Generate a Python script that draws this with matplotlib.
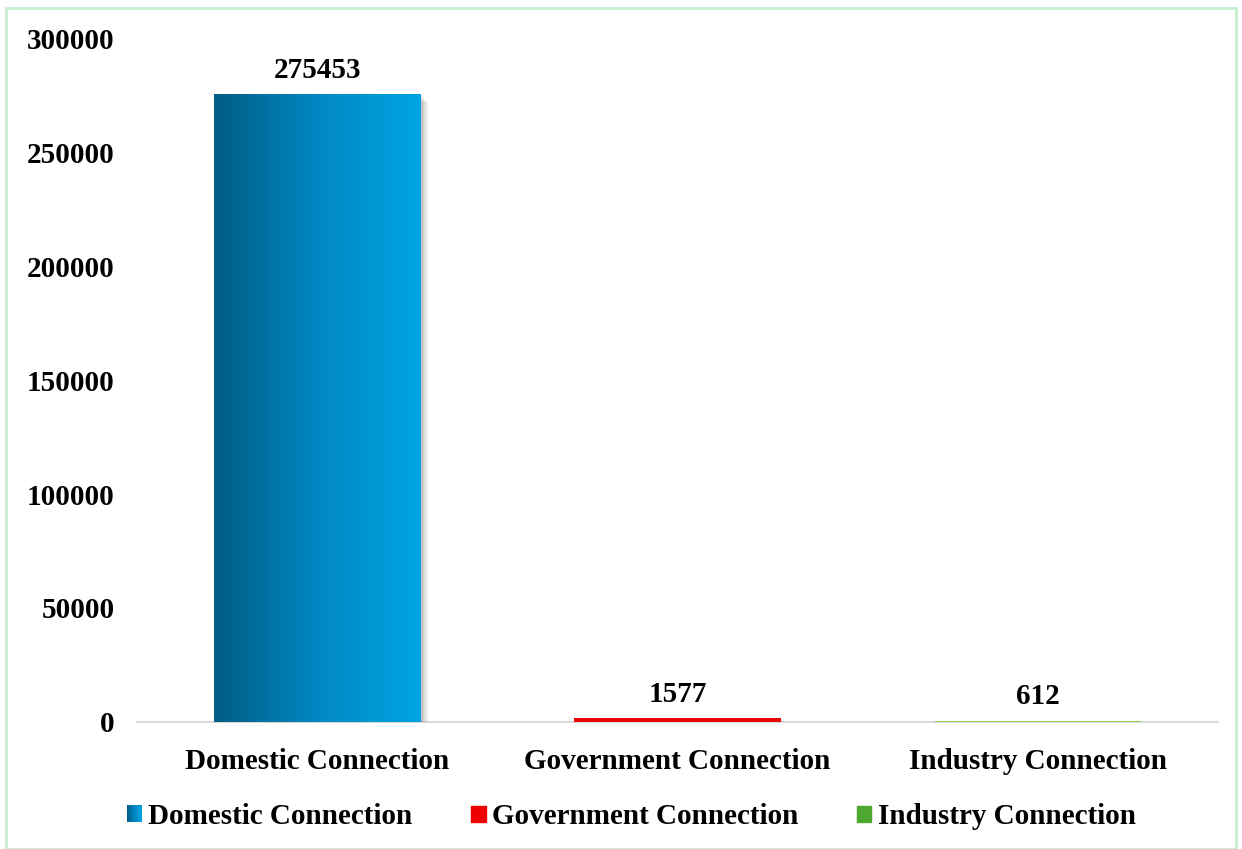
import numpy as np
import matplotlib.pyplot as plt
from matplotlib.patches import Rectangle
from matplotlib.colors import LinearSegmentedColormap
from matplotlib.legend_handler import HandlerBase
from matplotlib.image import BboxImage
from matplotlib.transforms import Bbox, TransformedBbox

categories = ["Domestic Connection", "Government Connection", "Industry Connection"]
values = [275453, 1577, 612]
colors = ["#0080b8", "#ee0000", "#92d050"]
legend_colors = ["#0080b8", "#ee0000", "#4ea72e"]
yticks = [0, 50000, 100000, 150000, 200000, 250000, 300000]

plt.rcParams["font.family"] = ["Liberation Serif", "DejaVu Serif"]
plt.rcParams["font.weight"] = "bold"

blue = LinearSegmentedColormap.from_list("blue", ["#005e84", "#0088c2", "#00a5e3"])

fig = plt.figure(figsize=(12.42, 8.49), dpi=100)
ax = fig.add_axes([137 / 1242, 1 - 722 / 849, 1081 / 1242, 684 / 849])

width = 0.573
x = np.arange(len(categories))

# soft shadow to the right of each bar
for i, v in enumerate(values):
    for k in range(1, 7):
        dx = 0.0035 * k
        ax.add_patch(Rectangle((x[i] - width / 2 + dx, 0), width, max(v - 600 * k, 0),
                               facecolor="#707070", alpha=0.09, lw=0, zorder=1))

bars = ax.bar(x, values, width, color=colors, zorder=2)

# gradient fill for the domestic bar
b = bars[0]
grad = np.linspace(0, 1, 256).reshape(1, -1)
im = ax.imshow(grad, cmap=blue, aspect="auto", zorder=3,
               extent=[b.get_x(), b.get_x() + b.get_width(), 0, b.get_height()])
im.set_clip_path(b)

for xi, v in zip(x, values):
    ax.text(xi, v + 4500, str(v), ha="center", va="bottom", fontsize=21,
            fontweight="bold")

ax.set_xlim(-0.5, 2.5)
ax.set_ylim(0, 300000)
ax.set_yticks(yticks)
ax.set_yticklabels([str(t) for t in yticks], fontsize=21, fontweight="bold")
ax.set_xticks(x)
ax.set_xticklabels(categories, fontsize=21, fontweight="bold")
ax.tick_params(length=0)
ax.tick_params(axis="y", pad=16)
ax.tick_params(axis="x", pad=19)
for s in ["top", "right", "left"]:
    ax.spines[s].set_visible(False)
ax.spines["bottom"].set_color("#d9d9d9")
ax.spines["bottom"].set_linewidth(1.5)
ax.spines["bottom"].set_zorder(0)


class GradientHandler(HandlerBase):
    def create_artists(self, legend, orig, xd, yd, w, h, fontsize, trans):
        box = BboxImage(TransformedBbox(Bbox.from_bounds(-xd, -yd, w, h), trans), cmap=blue)
        box.set_data(grad)
        return [box]


handles = [Rectangle((0, 0), 1, 1, color=c) for c in legend_colors]
leg = fig.legend(handles, categories, loc="center", bbox_to_anchor=(0.5085, 1 - 817 / 849),
                 ncol=3, frameon=False, fontsize=21, handlelength=0.5, handleheight=0.5,
                 handletextpad=0.22, columnspacing=2.0,
                 handler_map={handles[0]: GradientHandler()})
for t in leg.get_texts():
    t.set_fontweight("bold")

fig.patches.append(Rectangle((6 / 1242, 0), 1230 / 1242, 1 - 8 / 849, transform=fig.transFigure,
                             fill=False, edgecolor="#c6efce", lw=2))

fig.savefig("out.png", dpi=100)
